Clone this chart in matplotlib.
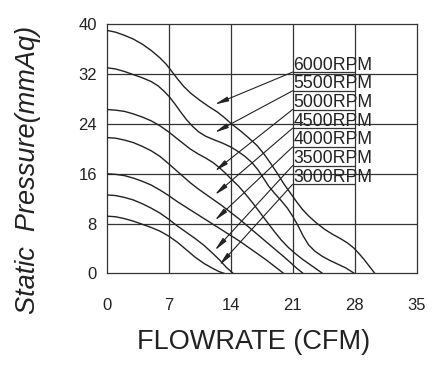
import matplotlib
matplotlib.use('Agg')
import matplotlib.pyplot as plt

plt.rcParams['font.family'] = ['Liberation Sans', 'DejaVu Sans']

rpm_labels = ['6000RPM', '5500RPM', '5000RPM', '4500RPM', '4000RPM', '3500RPM', '3000RPM']

x_6000 = [0, 1, 2, 3, 4, 5, 6, 6.7, 7.3, 8, 8.7, 9.5, 10.5, 11.5, 12.5, 13.3, 14, 15, 16, 17, 17.8, 18.6,
          19.3, 20, 20.7, 21.4, 22.1, 22.9, 23.7, 24.6, 25.5, 26.4, 27.2, 27.9, 28.5, 29.1, 29.7, 30.3]
y_6000 = [39.0, 38.7, 38.2, 37.6, 36.8, 35.8, 34.6, 33.6, 32.5, 31.2, 30.0, 28.9, 27.8, 26.8, 25.9, 25.0, 24.1,
          23.0, 21.8, 20.5, 19.1, 17.5, 16.0, 14.4, 13.0, 11.6, 10.3, 9.1, 8.1, 7.1, 6.3, 5.6, 4.9, 4.1, 3.2,
          2.2, 1.1, 0]

x_5500 = [0, 1, 2, 3, 4, 5, 5.8, 6.5, 7.1, 7.7, 8.3, 9, 9.7, 10.4, 11.2, 12.2, 13.1, 14, 14.8, 15.6, 16.4,
          17.1, 17.7, 18.3, 19, 19.7, 20.4, 21, 21.6, 22.2, 22.8, 23.5, 24.3, 25.2, 26.1, 27, 28]
y_5500 = [33.0, 32.8, 32.4, 31.9, 31.4, 30.8, 30.1, 29.2, 28.3, 27.2, 26.0, 24.7, 23.6, 22.7, 22.0, 21.4, 20.9,
          20.3, 19.6, 18.8, 17.8, 16.6, 15.3, 14.0, 12.8, 11.7, 10.5, 9.2, 7.7, 6.0, 4.6, 3.6, 2.8, 2.1, 1.5,
          0.9, 0]

x_5000 = [0, 1, 2, 3, 4, 5, 6, 7, 7.8, 8.6, 9.4, 10.3, 11.2, 12, 12.7, 13.4, 14.1, 14.9, 15.7, 16.5, 17.3,
          18.1, 18.9, 19.7, 20.5, 21.3, 22.1, 22.9, 23.7, 24.4]
y_5000 = [26.3, 26.2, 26.0, 25.6, 25.1, 24.5, 23.7, 22.7, 21.8, 20.9, 20.0, 19.2, 18.5, 17.8, 17.0, 16.1, 15.1,
          14.0, 12.7, 11.3, 9.8, 8.3, 6.8, 5.4, 4.2, 3.2, 2.3, 1.5, 0.7, 0]

x_4500 = [0, 1, 2, 3, 4, 5, 6, 7, 7.8, 8.6, 9.4, 10.3, 11.2, 12.1, 13, 14, 15, 16, 17, 18, 19, 20, 20.8,
          21.5, 22.2]
y_4500 = [21.8, 21.7, 21.4, 21.0, 20.4, 19.7, 18.8, 17.6, 16.6, 15.6, 14.6, 13.6, 12.7, 11.8, 10.9, 9.8, 8.7,
          7.5, 6.3, 5.1, 3.9, 2.7, 1.7, 0.8, 0]

x_4000 = [0, 1, 2, 3, 4, 5, 6, 7, 8, 9, 10, 11, 12, 13, 14, 15, 16, 17, 18, 19, 20]
y_4000 = [16.0, 15.9, 15.7, 15.3, 14.8, 14.2, 13.4, 12.5, 11.5, 10.6, 9.7, 8.8, 7.9, 7.0, 6.1, 5.2, 4.2, 3.2,
          2.2, 1.1, 0]

x_3500 = [0, 1, 2, 3, 4, 5, 6, 7, 8, 9, 10, 11, 12, 12.8, 13.5, 14.3]
y_3500 = [12.6, 12.5, 12.2, 11.8, 11.2, 10.5, 9.7, 8.7, 7.6, 6.6, 5.6, 4.5, 3.2, 2.1, 1.0, 0]

x_3000 = [0, 1, 2, 3, 4, 5, 6, 7, 8, 9, 10, 11, 12, 12.7, 13.3]
y_3000 = [9.2, 9.1, 8.8, 8.4, 7.9, 7.4, 6.8, 6.0, 5.0, 3.8, 2.6, 1.6, 0.8, 0.3, 0]

curves_x = [x_6000, x_5500, x_5000, x_4500, x_4000, x_3500, x_3000]
curves_y = [y_6000, y_5500, y_5000, y_4500, y_4000, y_3500, y_3000]

# label boxes sit between x=21 and x=28, arrows point back to the curves
box_bottom = [32.3, 29.3, 26.3, 23.3, 20.3, 17.3, 14.3]
arrow_tip_x = [12.2, 12.2, 12.2, 12.2, 12.2, 12.2, 12.7]
arrow_tip_y = [27.1, 22.6, 16.4, 12.6, 8.5, 3.7, 1.3]

x_ticks = [0, 7, 14, 21, 28, 35]
y_ticks = [0, 8, 16, 24, 32, 40]

fig = plt.figure(figsize=(4.41, 3.65), dpi=100)
ax = fig.add_axes([0.242, 0.2507, 0.7025, 0.6833])

ink = '#222222'
for xs, ys in zip(curves_x, curves_y):
    ax.plot(xs, ys, color=ink, lw=1.0, zorder=3)

for v in x_ticks[1:-1]:
    ax.axvline(v, color='#333333', lw=0.9, zorder=1)
for v in y_ticks[1:-1]:
    ax.axhline(v, color='#333333', lw=0.9, zorder=1)

ax.hlines(box_bottom, 21, 28, color='#333333', lw=0.9, zorder=2)

for lab, yb, tx, ty in zip(rpm_labels, box_bottom, arrow_tip_x, arrow_tip_y):
    ax.text(21.1, yb + 0.4, lab, fontsize=12.7, color=ink, ha='left', va='baseline', zorder=4)
    ax.annotate('', xy=(tx, ty), xytext=(21, yb),
                arrowprops=dict(arrowstyle='-|>,head_length=0.8,head_width=0.14',
                                color=ink, lw=0.8, shrinkA=0, shrinkB=0), zorder=4)

ax.set_xlim(0, 35)
ax.set_ylim(0, 40)
ax.set_xticks(x_ticks)
ax.set_yticks(y_ticks)
ax.tick_params(axis='x', length=0, pad=18, labelsize=12, labelcolor=ink)
ax.tick_params(axis='y', length=0, pad=7, labelsize=12, labelcolor=ink)
for s in ax.spines.values():
    s.set_color('#333333')
    s.set_linewidth(0.9)

fig.text(253.3 / 441, 1 - 341.7 / 365, 'FLOWRATE (CFM)', fontsize=19.5, color=ink,
         ha='center', va='center')
fig.text(28 / 441, 1 - 170 / 365, 'Static  Pressure(mmAq)', fontsize=19.5, color=ink,
         style='italic', rotation=90, ha='center', va='center')

fig.savefig('out.png', dpi=100)
